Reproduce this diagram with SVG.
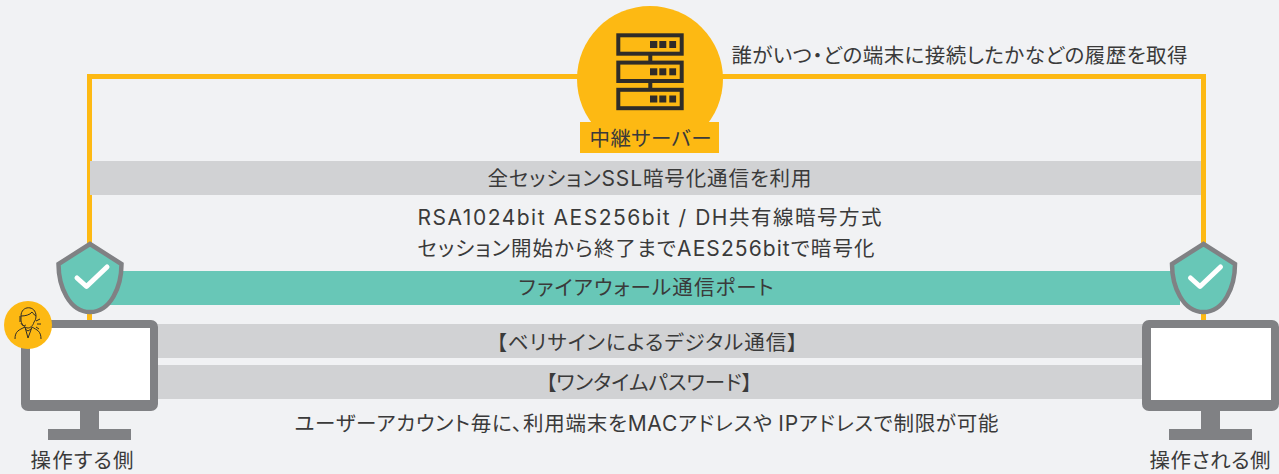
<svg xmlns="http://www.w3.org/2000/svg" width="1279" height="474" viewBox="0 0 1279 474">
<style>
text{font-family:"Noto Sans CJK JP","Liberation Sans",sans-serif;font-size:20.500px;font-weight:400;fill:#3a3a3a;text-anchor:middle;font-feature-settings:"palt"}
.lat{font-family:Inter,"Liberation Sans",sans-serif;font-size:21px;font-weight:400}
.gray{fill:#d1d2d4}
.line{fill:none;stroke:#fdb913;stroke-width:5}
.mon{fill:#808184}
.screen{fill:#fff}
.shield{fill:#68c7b7;stroke:#808184;stroke-width:4.500;stroke-linejoin:miter}
.chk{fill:none;stroke:#fff;stroke-width:5;stroke-linecap:round;stroke-linejoin:round}
.srv{fill:none;stroke:#2f2c28;stroke-width:4}
.dot{fill:#2f2c28}
.thin{fill:none;stroke:#2f2c28;stroke-width:1}
</style>
<defs>
<g id="shieldIcon"><path class="shield" d="M0,-28 L31.500,-8 C31.500,14 21,40 0,40 C-21,40 -31.500,14 -31.500,-8 Z"/><path class="chk" d="M-13,6 L-3.500,14.500 L17,-5"/></g>
<g id="monitorIcon"><path class="mon" d="M7,0 H130 a7,7 0 0 1 7,7 V84 a7,7 0 0 1 -7,7 H78 V109 H110 V120 H27 V109 H59 V91 H7 a7,7 0 0 1 -7,-7 V7 a7,7 0 0 1 7,-7 Z"/><rect class="screen" x="9" y="8" width="120" height="72"/></g>
<g id="unit"><rect class="srv" x="618.300" y="35.300" width="63.400" height="18.400"/><rect class="dot" x="650" y="41" width="7.300" height="7"/><rect class="dot" x="659.300" y="41" width="7" height="7"/><rect class="dot" x="669.300" y="41" width="6.800" height="7"/></g>
</defs>
<rect width="1279" height="474" fill="#f1f2f4"/>
<g id="connectors">
<path class="line" d="M89.500,320 V76.500 H1203.500 V320"/>
</g>
<g id="bars">
<rect class="gray" x="90" y="161" width="1111" height="34"/>
<rect x="110" y="271" width="1070" height="34" fill="#68c7b7"/>
<rect class="gray" x="150" y="324" width="1000" height="34"/>
<rect class="gray" x="150" y="365" width="1000" height="34"/>
</g>
<g id="server">
<circle cx="650" cy="79" r="73" fill="#fdb913"/>
<rect x="580" y="122" width="139" height="31" fill="#fdb913"/>
<use href="#unit"/>
<use href="#unit" y="27.300"/>
<use href="#unit" y="54.500"/>
<path class="srv" d="M650.300,55 V62 M650.300,82 V89"/>
<text x="650.500" y="146" textLength="122">中継サーバー</text>
</g>
<g id="labels">
<text x="959.500" y="63" textLength="456">誰がいつ・どの端末に接続したかなどの履歴を取得</text>
<text x="649.500" y="186" textLength="324">全セッション<tspan class="lat">SSL</tspan>暗号化通信を利用</text>
<text x="649.500" y="225" textLength="464"><tspan class="lat">RSA1024bit AES256bit / DH</tspan>共有線暗号方式</text>
<text x="646" y="256" textLength="457">セッション開始から終了まで<tspan class="lat">AES256bit</tspan>で暗号化</text>
<text x="646" y="295" textLength="255">ファイアウォール通信ポート</text>
<text x="647" y="350" textLength="301">【ベリサインによるデジタル通信】</text>
<text x="649" y="390" textLength="206">【ワンタイムパスワード】</text>
<text x="646.500" y="431" textLength="704">ユーザーアカウント毎に、利用端末を<tspan class="lat">MAC</tspan>アドレスや <tspan class="lat">IP</tspan>アドレスで制限が可能</text>
</g>
<g id="shield-left"><use href="#shieldIcon" x="90" y="272"/></g>
<g id="shield-right"><use href="#shieldIcon" x="1203.500" y="272"/></g>
<g id="monitor-left"><use href="#monitorIcon" x="21" y="320"/></g>
<g id="monitor-right"><use href="#monitorIcon" x="1142" y="320"/></g>
<g id="operator">
<circle cx="28" cy="325" r="24" fill="#fdb913"/>
<path class="thin" d="M21,316 C21,305 36,305 36,316 C36,319 35,321 34,322 C33,326 30,328 28,328 C25,328 22,325 21,321 Z M21,316 C25,316 30,315 32,312 C33,314 35,315 36,316"/>
<path class="thin" d="M20,316 V322 M21,323 C22,326 24,326 26,325"/>
<path class="thin" d="M15,339 C15,331 19,330 25,327 L28,338 L32,327 C37,330 41,331 41,339 M25,329 L28,331 L31,329"/>
<path class="thin" d="M36,321 L40,319 M37,324 L41,324 M36,327 L39,329"/>
</g>
<g id="operator-label"><text x="82" y="468" textLength="103">操作する側</text></g>
<g id="operated-label"><text x="1210" y="468" textLength="121">操作される側</text></g>
</svg>
